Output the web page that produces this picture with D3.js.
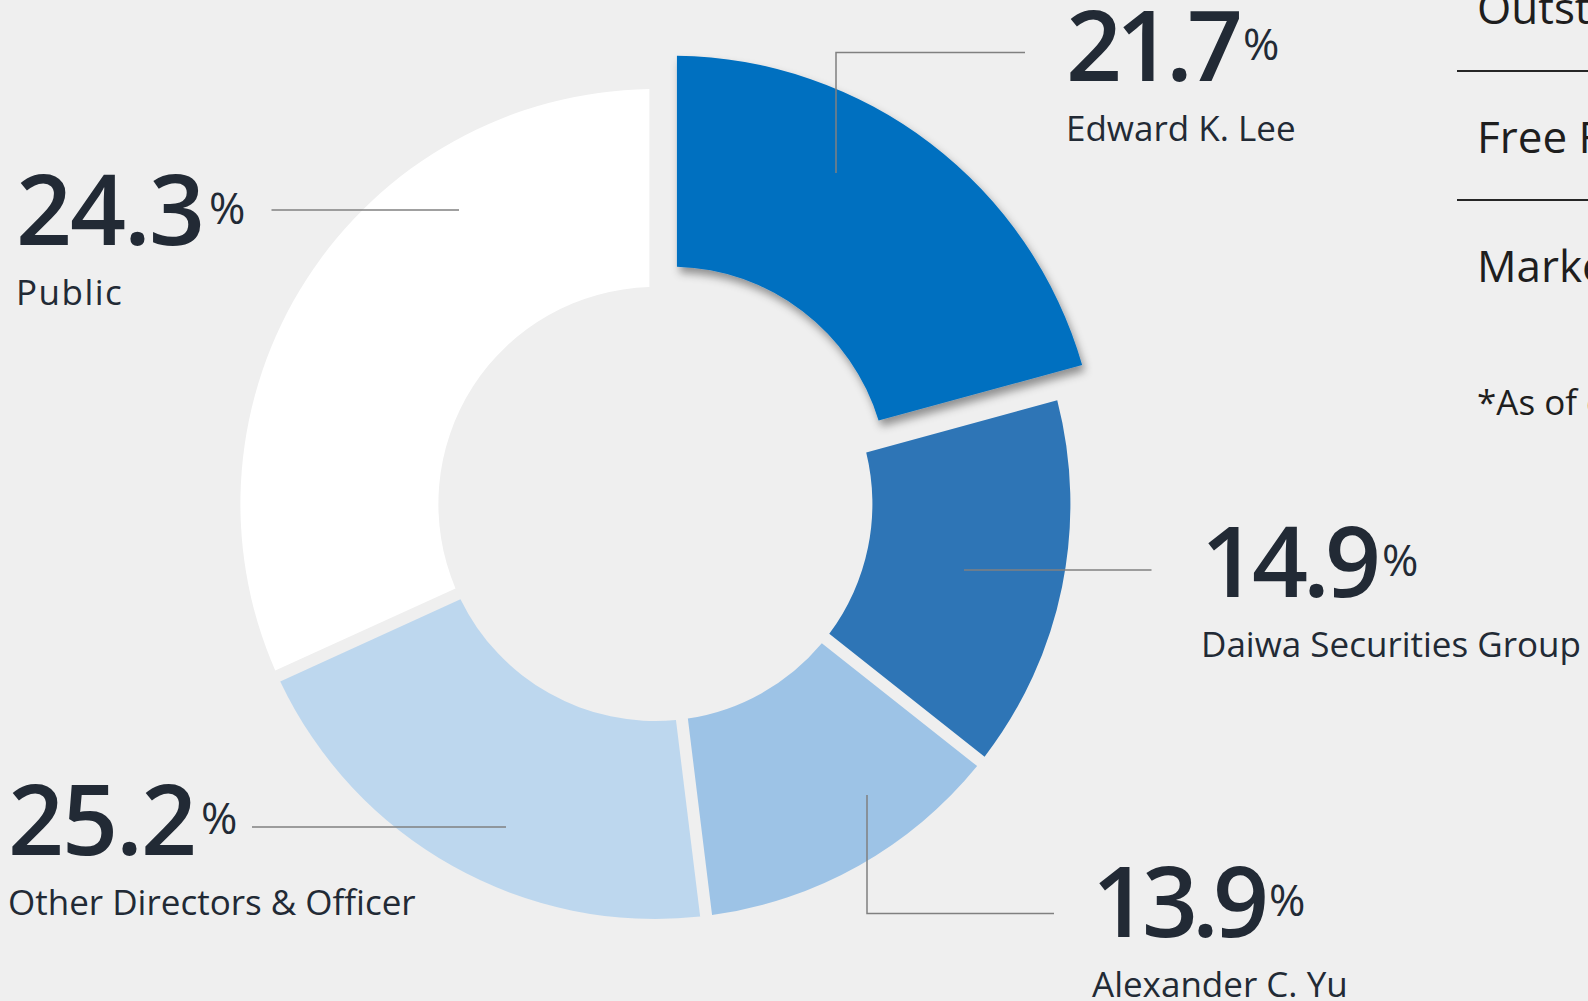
<!DOCTYPE html>
<html lang="en">
<head>
  <meta charset="UTF-8" />
  <title>Shareholding Structure</title>
  <script src="https://d3js.org/d3.v7.min.js"></script>
  <style>
    body {
      margin: 0;
      background: #efefef;
      overflow: hidden;
    }
    svg {
      display: block;
      font-family: "Open Sans", "Noto Sans", sans-serif;
    }
    .pct { font-size: 98px; font-weight: 600; fill: #222a35; }
    .pct-num { letter-spacing: -4px; }
    .pct-sign { font-size: 44px; font-weight: 400; letter-spacing: 0; }
    .holder { font-size: 35px; fill: #222a35; }
    .leader { stroke: #808080; stroke-width: 1.5; fill: none; }
    .side-text { font-size: 44px; fill: #1e1e1e; }
    .side-note { font-size: 35px; fill: #1e1e1e; }
    .side-rule { stroke: #262626; stroke-width: 2; }
  </style>
</head>
<body>
  <svg id="chart" width="1588" height="1001"></svg>

  <script type="text/javascript">
    // Shareholders, clockwise from 12 o'clock
    var holders = ["Edward K. Lee", "Daiwa Securities Group", "Alexander C. Yu", "Other Directors & Officer", "Public"];
    // percentages printed next to the ring
    var labelPct = [21.7, 14.9, 13.9, 25.2, 24.3];
    // slice sizes as drawn in the artwork (the ring isn't to scale with the printed labels)
    var sliceShare = [20.75, 14.9, 12.4, 20.15, 31.8];

    // side table, clipped by the right edge
    var sideRows = ["Outstanding Shares", "Free Float", "Market Cap"];
    var sideNote = "*As of end of period";

    var colors = ["#0070c0", "#2e75b6", "#9dc3e6", "#bdd7ee", "#ffffff"];

    // where each label block sits, its number tracking, and its leader line
    var labelSpots = [
      { x: 1066, y: 81,  track: -6, leader: [[836, 173], [836, 52.5], [1025, 52.5]] },
      { x: 1201, y: 597, track: -5, leader: [[964, 570], [1151.5, 570]] },
      { x: 1092, y: 937, track: -6, leader: [[867, 795], [867, 913.5], [1054, 913.5]] },
      { x: 8,    y: 855, track: -2, leader: [[252, 827], [506, 827]] },
      { x: 16,   y: 245, track: -2, leader: [[271.5, 210], [459, 210]] }
    ];

    var cx = 655.4, cy = 504;
    var outerR = 415, innerR = 217, bigOuterR = 428, explode = 25.6, gap = 12;

    var svg = d3.select("#chart");

    // drop shadow for the highlighted slice
    var filter = svg.append("defs").append("filter")
      .attr("id", "shadow")
      .attr("x", "-20%").attr("y", "-20%")
      .attr("width", "140%").attr("height", "140%");
    filter.append("feDropShadow")
      .attr("dx", 3).attr("dy", 6)
      .attr("stdDeviation", 4)
      .attr("flood-color", "#000")
      .attr("flood-opacity", 0.4);

    var rows = holders.map(function(h, i) {
      return { name: h, pct: labelPct[i], share: sliceShare[i], color: colors[i] };
    });

    var pie = d3.pie().sort(null).value(function(d) { return d.share; });
    var arcs = pie(rows);

    var arc = d3.arc().innerRadius(innerR).outerRadius(outerR)
      .padAngle(gap / outerR).padRadius(outerR);
    var bigArc = d3.arc().innerRadius(innerR).outerRadius(bigOuterR)
      .padAngle(gap / outerR).padRadius(outerR);

    var ring = svg.append("g").attr("transform", "translate(" + cx + "," + cy + ")");

    ring.selectAll("path")
      .data(arcs)
      .join("path")
      .attr("d", function(d, i) { return i === 0 ? bigArc(d) : arc(d); })
      .attr("fill", function(d) { return d.data.color; })
      .attr("filter", function(d, i) { return i === 0 ? "url(#shadow)" : null; })
      .attr("transform", function(d, i) {
        if (i !== 0) return null;
        // pull the first slice out along its bisector
        var mid = (d.startAngle + d.endAngle) / 2;
        return "translate(" + explode * Math.sin(mid) + "," + (-explode * Math.cos(mid)) + ")";
      });

    // leader lines
    var line = d3.line();
    svg.selectAll(".leader")
      .data(labelSpots)
      .join("path")
      .attr("class", "leader")
      .attr("d", function(d) { return line(d.leader); });

    // labels
    var labels = svg.selectAll(".label")
      .data(rows)
      .join("g")
      .attr("class", "label");

    var pctText = labels.append("text")
      .attr("class", "pct")
      .attr("x", function(d, i) { return labelSpots[i].x; })
      .attr("y", function(d, i) { return labelSpots[i].y; });
    pctText.append("tspan")
      .attr("class", "pct-num")
      .style("letter-spacing", function(d, i) { return labelSpots[i].track + "px"; })
      .text(function(d) { return d.pct.toFixed(1); });
    pctText.append("tspan")
      .attr("class", "pct-sign")
      .attr("dx", 6)
      .attr("dy", -21)
      .text("%");

    labels.append("text")
      .attr("class", "holder")
      .attr("x", function(d, i) { return labelSpots[i].x; })
      .attr("y", function(d, i) { return labelSpots[i].y + 60; })
      .style("letter-spacing", function(d) { return d.name === "Public" ? "1.5px" : null; })
      .text(function(d) { return d.name; });

    // side table
    var side = svg.append("g");
    side.selectAll(".side-text")
      .data(sideRows)
      .join("text")
      .attr("class", "side-text")
      .attr("x", 1477)
      .attr("y", function(d, i) { return 24 + i * 129; })
      .text(function(d) { return d; });
    side.selectAll(".side-rule")
      .data([71, 200])
      .join("line")
      .attr("class", "side-rule")
      .attr("x1", 1457).attr("x2", 1588)
      .attr("y1", function(d) { return d; })
      .attr("y2", function(d) { return d; });
    side.append("text")
      .attr("class", "side-note")
      .attr("x", 1477)
      .attr("y", 415)
      .text(sideNote);
  </script>
</body>
</html>
